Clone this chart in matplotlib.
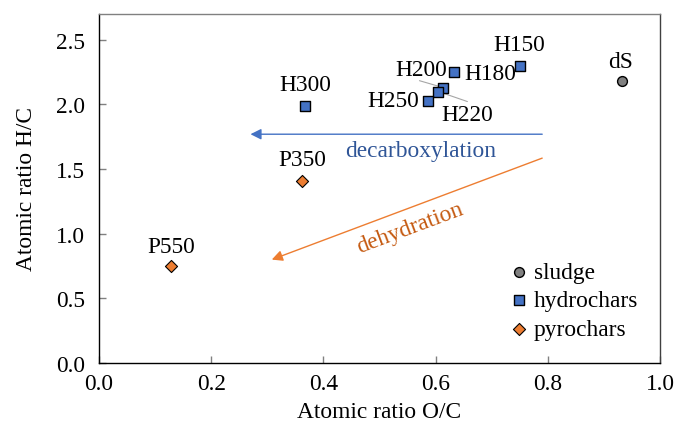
import matplotlib
matplotlib.use("Agg")
import matplotlib.pyplot as plt

plt.rcParams['font.family'] = ['Liberation Serif', 'DejaVu Serif']

# Data
sludge_x = [0.932]
sludge_y = [2.18]
sludge_lbl = ["dS"]

hydro_lbl = ["H150", "H180", "H200", "H220", "H250", "H300"]
hydro_x = [0.751, 0.633, 0.614, 0.605, 0.587, 0.368]
hydro_y = [2.30, 2.25, 2.13, 2.10, 2.03, 1.99]

pyro_lbl = ["P350", "P550"]
pyro_x = [0.362, 0.128]
pyro_y = [1.405, 0.748]

xticks = [0.0, 0.2, 0.4, 0.6, 0.8, 1.0]
yticks = [0.0, 0.5, 1.0, 1.5, 2.0, 2.5]

fig = plt.figure(figsize=(6.75, 4.27), dpi=100)
ax = fig.add_axes([99/675, 1-364/427, (660-99)/675, (364-15)/427])

fs = 16.8
ax.scatter(sludge_x, sludge_y, marker='o', s=50, color='#808080', edgecolor='black', linewidth=1, zorder=3, label='sludge')
ax.scatter(hydro_x, hydro_y, marker='s', s=55, color='#4472C4', edgecolor='black', linewidth=1, zorder=3, label='hydrochars')
ax.scatter(pyro_x, pyro_y, marker='D', s=38, color='#ED7D31', edgecolor='black', linewidth=0.8, zorder=3, label='pyrochars')

offsets = {"dS": (-1, 20), "H150": (-1, 21), "H180": (36, -1), "H200": (-22, 18),
           "H250": (-35, 0), "H220": (29, -23), "H300": (0, 21), "P350": (0, 22), "P550": (0, 20)}

for lbls, xs, ys in [(sludge_lbl, sludge_x, sludge_y), (hydro_lbl, hydro_x, hydro_y), (pyro_lbl, pyro_x, pyro_y)]:
    for l, x, y in zip(lbls, xs, ys):
        ax.annotate(l, (x, y), xytext=offsets[l], textcoords='offset pixels',
                    ha='center', va='center', fontsize=fs, zorder=4)

# leader lines for H200 and H220
i200 = hydro_lbl.index("H200")
i220 = hydro_lbl.index("H220")
ax.annotate("", (hydro_x[i200], hydro_y[i200]), xytext=(-24, 7), textcoords='offset pixels',
            arrowprops=dict(arrowstyle='-', color='#A6A6A6', lw=0.8, shrinkA=0, shrinkB=0), zorder=2)
ax.annotate("", (hydro_x[i220], hydro_y[i220]), xytext=(29, -10), textcoords='offset pixels',
            arrowprops=dict(arrowstyle='-', color='#A6A6A6', lw=0.8, shrinkA=0, shrinkB=0), zorder=2)

# arrows
ax.annotate("", xy=(0.27, 1.77), xytext=(0.79, 1.77),
            arrowprops=dict(arrowstyle='-|>', color='#4472C4', lw=1, mutation_scale=16, shrinkA=0, shrinkB=0))
ax.annotate("", xy=(0.308, 0.80), xytext=(0.79, 1.585),
            arrowprops=dict(arrowstyle='-|>', color='#ED7D31', lw=1, mutation_scale=16, shrinkA=0, shrinkB=0))
ax.text(0.574, 1.645, "decarboxylation", color='#2F5597', fontsize=fs, ha='center', va='center')
ax.text(0.555, 1.05, "dehydration", color='#C55A11', fontsize=fs, ha='center', va='center', rotation=20.5)

ax.set_xlim(0, 1.0)
ax.set_ylim(0, 2.7)
ax.set_xticks(xticks)
ax.set_yticks(yticks)
ax.set_xticklabels([f"{v:.1f}" for v in xticks], fontsize=fs)
ax.set_yticklabels([f"{v:.1f}" for v in yticks], fontsize=fs)
ax.tick_params(axis='x', direction='in', length=5, color='#808080', width=1, pad=7)
ax.tick_params(axis='y', direction='in', length=5, color='#808080', width=1, pad=10)
ax.spines['left'].set_color('black')
ax.spines['bottom'].set_color('black')
ax.spines['top'].set_color('#808080')
ax.spines['right'].set_color('#404040')
for s in ax.spines.values():
    s.set_linewidth(1)

ax.set_xlabel("Atomic ratio O/C", fontsize=fs, labelpad=5)
ax.set_ylabel("Atomic ratio H/C", fontsize=fs, labelpad=14)

leg = ax.legend(loc='lower right', bbox_to_anchor=(0.99, 0.02), frameon=False, fontsize=fs,
                handletextpad=0.05, labelspacing=0.3, borderaxespad=0.3, handlelength=1.2)

fig.savefig("out.png", dpi=100)
